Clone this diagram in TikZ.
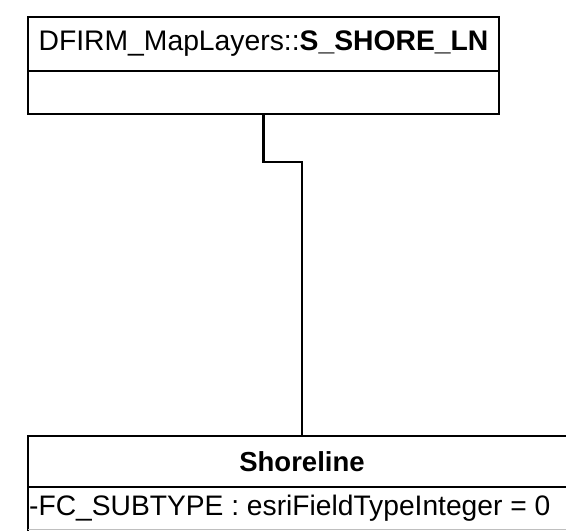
\documentclass[tikz,border=0pt]{standalone}
\usepackage{fontspec}
\setmainfont{Liberation Sans}
\begin{document}
\begin{tikzpicture}[x=1pt,y=-1pt,
  box/.style={draw=black,line width=2.2pt,inner sep=0pt,anchor=north west,outer sep=0pt},
  conn/.style={draw=black,line width=2.2pt}]
\useasboundingbox (0,0) rectangle (566,531);
\clip (0,0) rectangle (566,531);
\node[box,minimum width=471pt,minimum height=54pt] (toptitle) at (28,17)
  {\fontsize{28.3}{30}\selectfont DFIRM\_MapLayers::\textbf{S\_SHORE\_LN}};
\node[box,minimum width=471pt,minimum height=43pt] (topbody) at (28,71) {};
\node[box,minimum width=548pt,minimum height=51pt] (bottitle) at (28,436)
  {\fontsize{27.5}{30}\selectfont\textbf{Shoreline}};
\node[box,minimum width=548pt,minimum height=60pt] (botbody) at (28,487) {};
\node[anchor=west,inner sep=0pt] (attr) at (29,508)
  {\fontsize{28.2}{30}\selectfont -FC\_SUBTYPE : esriFieldTypeInteger = 0};
\draw[black!25,line width=1pt] (botbody.west |- 0,529.5) -- (botbody.east |- 0,529.5);
\draw[conn] (topbody.south) -- ++(0,48) -| (bottitle.north);
\end{tikzpicture}
\end{document}
